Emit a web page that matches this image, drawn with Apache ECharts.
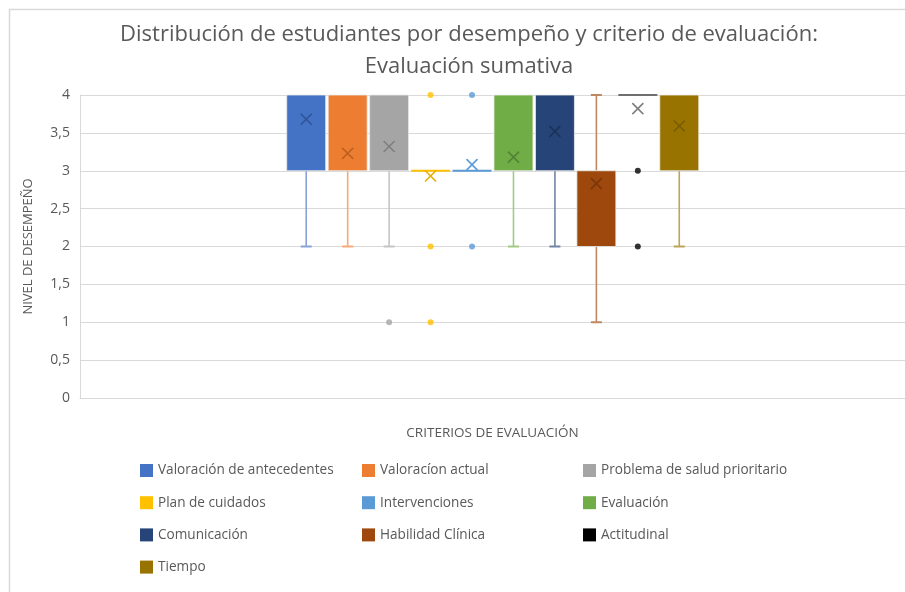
<!DOCTYPE html>
<html><head><meta charset="utf-8">
<script src="https://cdn.jsdelivr.net/npm/echarts@6/dist/echarts.min.js"></script>
<style>html,body{margin:0;padding:0;background:#fff}#c{width:905px;height:592px}</style>
</head><body><div id="c"></div>
<script>
// ---- data ----
const categories = ['Valoración de antecedentes', 'Valoracíon actual', 'Problema de salud prioritario',
  'Plan de cuidados', 'Intervenciones', 'Evaluación', 'Comunicación', 'Habilidad Clínica', 'Actitudinal', 'Tiempo'];
const whiskerLow  = [2, 2, 2, 3, 3, 2, 2, 1, 4, 2];
const q1          = [3, 3, 3, 3, 3, 3, 3, 2, 4, 3];
const medians     = [4, 3, 3, 3, 3, 3, 4, 3, 4, 4];
const q3          = [4, 4, 4, 3, 3, 4, 4, 3, 4, 4];
const whiskerHigh = [4, 4, 4, 3, 3, 4, 4, 4, 4, 4];
const means       = [3.68, 3.23, 3.32, 2.93, 3.08, 3.18, 3.52, 2.83, 3.82, 3.59];
const outliers    = [[], [], [1], [4, 2, 1], [4, 2], [], [], [], [3, 2], []];

// ---- styles ----
const seriesColors = ['#4472C4', '#ED7D31', '#A5A5A5', '#FFC000', '#5B9BD5', '#70AD47', '#264478', '#9E480E', '#000000', '#997300'];
const lineColors   = ['#4472C4', '#ED7D31', '#A5A5A5', '#FFC000', '#5B9BD5', '#70AD47', '#264478', '#9E480E', '#6F6F6F', '#997300'];
const meanColors   = ['#2F5597', '#C0601F', '#7F7F7F', '#E8AE00', '#5B9BD5', '#548235', '#1B3358', '#7A370B', '#7F7F7F', '#7A5C00'];
const FONT = 'Open Sans';
const TXT = '#595959';

function tint(hex, t) {
  const n = parseInt(hex.slice(1), 16);
  const r = (n >> 16) & 255, g = (n >> 8) & 255, b = n & 255;
  const m = c => Math.round(c + (255 - c) * t);
  return 'rgb(' + m(r) + ',' + m(g) + ',' + m(b) + ')';
}

function makeRender(i) {
  return function (params, api) {
    const x = api.value(0);
    const band = api.size([1, 0])[0];
    const bw = band * 0.94;
    const cx = api.coord([x, 0])[0];
    const Y = v => api.coord([x, v])[1];
    const yLo = Y(api.value(1)), yQ1 = Y(api.value(2)), yMed = Y(api.value(3));
    const yQ3 = Y(api.value(4)), yHi = Y(api.value(5)), yMean = Y(api.value(6));
    const wc = tint(lineColors[i], 0.35);
    const wStyle = { stroke: wc, lineWidth: 1.6 };
    const cap = 5.5;
    const ch = [];
    if (yQ3 - yHi > 0.5) {
      ch.push({ type: 'line', shape: { x1: cx, y1: yQ3, x2: cx, y2: yHi }, style: wStyle });
      ch.push({ type: 'line', shape: { x1: cx - cap, y1: yHi, x2: cx + cap, y2: yHi }, style: { stroke: wc, lineWidth: 2 } });
    }
    if (yLo - yQ1 > 0.5) {
      ch.push({ type: 'line', shape: { x1: cx, y1: yQ1, x2: cx, y2: yLo }, style: wStyle });
      ch.push({ type: 'line', shape: { x1: cx - cap, y1: yLo, x2: cx + cap, y2: yLo }, style: { stroke: wc, lineWidth: 2 } });
    }
    if (yQ1 - yQ3 > 0.5) {
      ch.push({ type: 'rect', shape: { x: cx - bw / 2, y: yQ3, width: bw, height: yQ1 - yQ3 },
        style: { fill: seriesColors[i], stroke: 'rgba(235,235,235,0.8)', lineWidth: 1 } });
    } else {
      ch.push({ type: 'line', shape: { x1: cx - bw / 2, y1: yMed, x2: cx + bw / 2, y2: yMed },
        style: { stroke: lineColors[i], lineWidth: 2 } });
    }
    const s = 5.5;
    const mStyle = { stroke: meanColors[i], lineWidth: 1.6 };
    ch.push({ type: 'line', shape: { x1: cx - s, y1: yMean - s, x2: cx + s, y2: yMean + s }, style: mStyle });
    ch.push({ type: 'line', shape: { x1: cx - s, y1: yMean + s, x2: cx + s, y2: yMean - s }, style: mStyle });
    return { type: 'group', children: ch };
  };
}

const series = [];
categories.forEach((name, i) => {
  series.push({
    type: 'custom', name: name, xAxisIndex: 1, yAxisIndex: 1,
    itemStyle: { color: seriesColors[i] },
    encode: { x: 0, y: [1, 2, 3, 4, 5, 6] },
    renderItem: makeRender(i),
    data: [[i, whiskerLow[i], q1[i], medians[i], q3[i], whiskerHigh[i], means[i]]],
    z: 3
  });
});
categories.forEach((name, i) => {
  if (!outliers[i].length) return;
  series.push({
    type: 'scatter', name: name, xAxisIndex: 1, yAxisIndex: 1,
    symbol: 'circle', symbolSize: 6,
    itemStyle: { color: seriesColors[i] },
    data: outliers[i].map(v => [i, v]),
    z: 4
  });
});

function legendCol(left, idx) {
  return {
    orient: 'vertical', left: left, top: 463.5, padding: 0,
    itemWidth: 13, itemHeight: 13, itemGap: 18.2, icon: 'rect',
    selectedMode: false,
    textStyle: { fontFamily: FONT, fontSize: 13.6, color: TXT, lineHeight: 13 },
    data: idx.map(k => categories[k])
  };
}

const chart = echarts.init(document.getElementById('c'), null, { renderer: 'canvas' });
chart.setOption({
  animation: false,
  backgroundColor: '#fff',
  title: {
    text: 'Distribución de estudiantes por desempeño y criterio de evaluación:\nEvaluación sumativa',
    left: 469, top: 18.5, textAlign: 'center', padding: 0,
    textStyle: { fontFamily: FONT, fontSize: 22, fontWeight: 'normal', color: TXT, lineHeight: 32 }
  },
  graphic: [{
    type: 'rect', shape: { x: 9.5, y: 9.5, width: 1000, height: 1000 },
    style: { fill: 'none', stroke: '#d9d9d9', lineWidth: 1.5 }, silent: true, z: -10
  }],
  legend: [legendCol(140, [0, 3, 6, 9]), legendCol(362, [1, 4, 7]), legendCol(583, [2, 5, 8])],
  grid: [
    { left: 80, right: 0, top: 95, bottom: 194 },
    { left: 285.5, width: 414.5, top: 95, bottom: 194 }
  ],
  xAxis: [
    { type: 'category', gridIndex: 0, data: [''],
      axisLine: { show: true, lineStyle: { color: '#d9d9d9', width: 1 } },
      axisTick: { show: false }, axisLabel: { show: false },
      name: 'CRITERIOS DE EVALUACIÓN', nameLocation: 'middle', nameGap: 28,
      nameTextStyle: { fontFamily: FONT, fontSize: 13.5, color: TXT } },
    { type: 'category', gridIndex: 1, data: categories, show: false }
  ],
  yAxis: [
    { type: 'value', gridIndex: 0, min: 0, max: 4, interval: 0.5,
      axisLine: { show: true, lineStyle: { color: '#d9d9d9', width: 1 } },
      axisTick: { show: false },
      axisLabel: { fontFamily: FONT, fontSize: 14, color: TXT, margin: 10,
        formatter: v => String(v).replace('.', ',') },
      splitLine: { show: true, lineStyle: { color: '#d9d9d9', width: 1 } },
      name: 'NIVEL DE DESEMPEÑO', nameLocation: 'middle', nameGap: 45, nameRotate: 90,
      nameTextStyle: { fontFamily: FONT, fontSize: 13, color: TXT } },
    { type: 'value', gridIndex: 1, min: 0, max: 4, show: false }
  ],
  series: series
});
</script></body></html>
